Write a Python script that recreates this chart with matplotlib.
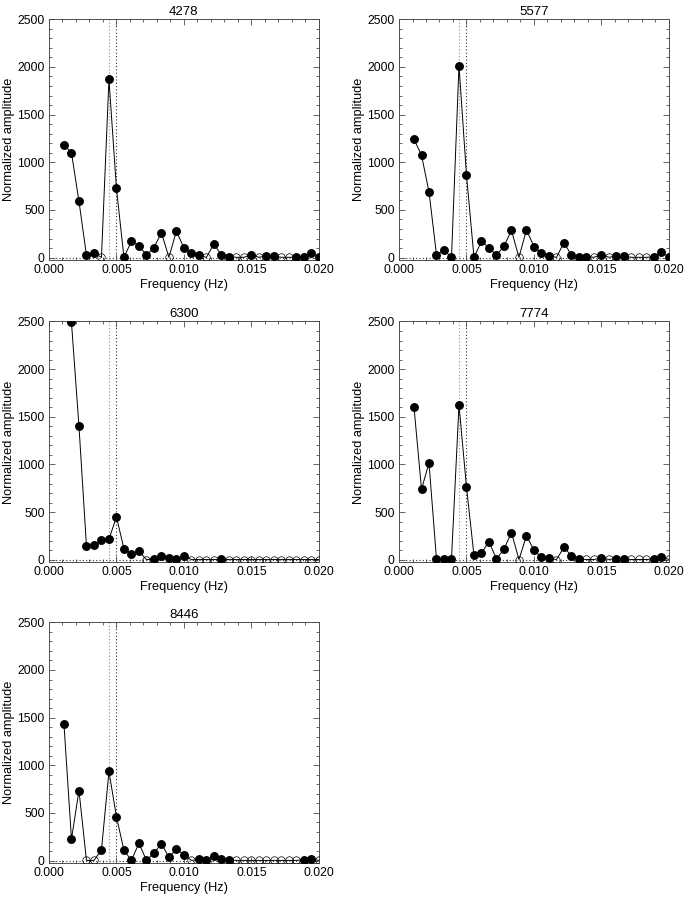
import numpy as np
import matplotlib.pyplot as plt
from matplotlib.ticker import MultipleLocator

plt.rcParams['font.family'] = ['Liberation Sans', 'DejaVu Sans']
plt.rcParams['font.size'] = 9

# frequency bins k/1800 Hz, k = 2..36
k = np.arange(2, 37)
freq = k / 1800.0

titles = ['4278', '5577', '6300', '7774', '8446']

amp_4278 = [1185, 1100, 590, 25, 50, 2, 1870, 725, 3, 170, 125, 25, 105, 262, 2, 278, 100, 45,
            25, 2, 145, 25, 8, 3, 3, 30, 3, 18, 14, 3, 3, 5, 8, 48, 7]
fill_4278 = [1, 1, 1, 1, 1, 0, 1, 1, 1, 1, 1, 1, 1, 1, 0, 1, 1, 1, 1, 0, 1, 1, 1, 0, 0, 1, 0, 1, 1,
             0, 0, 1, 1, 1, 1]

amp_5577 = [1240, 1075, 690, 30, 78, 3, 2015, 865, 3, 170, 105, 25, 120, 285, 2, 292, 115, 47,
            20, 2, 158, 25, 10, 10, 3, 30, 3, 17, 17, 3, 3, 3, 7, 55, 7]
fill_5577 = [1, 1, 1, 1, 1, 1, 1, 1, 1, 1, 1, 1, 1, 1, 0, 1, 1, 1, 1, 0, 1, 1, 1, 1, 0, 1, 0, 1, 1,
             0, 0, 0, 1, 1, 1]

amp_6300 = [np.nan, 2490, 1400, 145, 150, 205, 215, 450, 115, 60, 90, 2, 3, 42, 20, 5, 43,
            2, 2, 2, 2, 3, 2, 2, 2, 2, 2, 2, 2, 2, 2, 2, 2, 2, 2]
fill_6300 = [0, 1, 1, 1, 1, 1, 1, 1, 1, 1, 1, 0, 1, 1, 1, 1, 1, 0, 0, 0, 0, 1, 0, 0, 0, 0, 0, 0, 0,
             0, 0, 0, 0, 0, 0]

amp_7774 = [1600, 740, 1015, 5, 8, 8, 1625, 762, 45, 72, 190, 8, 112, 285, 2, 252, 100, 25,
            18, 2, 130, 42, 8, 3, 3, 17, 3, 12, 8, 3, 3, 3, 8, 30, 3]
fill_7774 = [1, 1, 1, 1, 1, 1, 1, 1, 1, 1, 1, 1, 1, 1, 0, 1, 1, 1, 1, 0, 1, 1, 1, 0, 0, 1, 0, 1, 1,
             0, 0, 0, 1, 1, 0]

amp_8446 = [1430, 225, 735, 2, 2, 112, 935, 460, 108, 3, 182, 3, 78, 178, 35, 122, 62, 2,
            12, 3, 52, 18, 4, 2, 2, 2, 2, 2, 2, 2, 2, 2, 8, 14, 2]
fill_8446 = [1, 1, 1, 0, 0, 1, 1, 1, 1, 1, 1, 1, 1, 1, 1, 1, 1, 0, 1, 1, 1, 1, 1, 0, 0, 0, 0, 0, 0,
             0, 0, 0, 1, 1, 0]

amps = [amp_4278, amp_5577, amp_6300, amp_7774, amp_8446]
fills = [fill_4278, fill_5577, fill_6300, fill_7774, fill_8446]

# band limits (dotted lines)
f_lo = 1 / 225.0
f_hi = 1 / 200.0

fig = plt.figure(figsize=(6.85, 8.98), dpi=100)

lefts = [0.0715, 0.5825]
bottoms = [0.7105, 0.374, 0.039]
w, h = 0.394, 0.268

for i in range(5):
    row, col = i // 2, i % 2
    ax = fig.add_axes([lefts[col], bottoms[row], w, h])
    a = np.array(amps[i], dtype=float)
    m = np.array(fills[i]) == 1

    ax.axvline(f_lo, color='0.55', ls=(0, (1, 2)), lw=0.8, zorder=1)
    ax.axvline(f_hi, color='0.2', ls=(0, (1, 2)), lw=0.8, zorder=1)
    ax.axhline(0, color='0.2', ls=(0, (1, 2)), lw=0.8, zorder=1)

    ax.plot(freq, a, color='black', lw=0.7, zorder=2)
    ax.plot(freq[m], a[m], 'o', ms=5.4, mfc='black', mec='black', zorder=3)
    ax.plot(freq[~m], a[~m], 'o', ms=5.4, mfc='none', mec='black', mew=0.5, zorder=3)

    ax.set_xlim(0, 0.02)
    ax.set_ylim(-25, 2500)
    ax.xaxis.set_major_locator(MultipleLocator(0.005))
    ax.xaxis.set_minor_locator(MultipleLocator(0.001))
    ax.yaxis.set_major_locator(MultipleLocator(500))
    ax.yaxis.set_minor_locator(MultipleLocator(100))
    ax.xaxis.set_major_formatter(plt.FormatStrFormatter('%.3f'))
    ax.tick_params(which='both', direction='in', top=True, right=True, width=0.6, color='0.3',
                   labelsize=8.8, pad=3)
    ax.tick_params(which='major', length=4)
    ax.tick_params(which='minor', length=2.5)
    for s in ax.spines.values():
        s.set_color('0.3')
        s.set_linewidth(0.7)

    ax.set_title(titles[i], fontsize=9.5, pad=3)
    ax.set_xlabel('Frequency (Hz)', fontsize=9.2, labelpad=2)
    ax.set_ylabel('Normalized amplitude', fontsize=9.2, labelpad=2)

fig.savefig('out.png', dpi=100)
